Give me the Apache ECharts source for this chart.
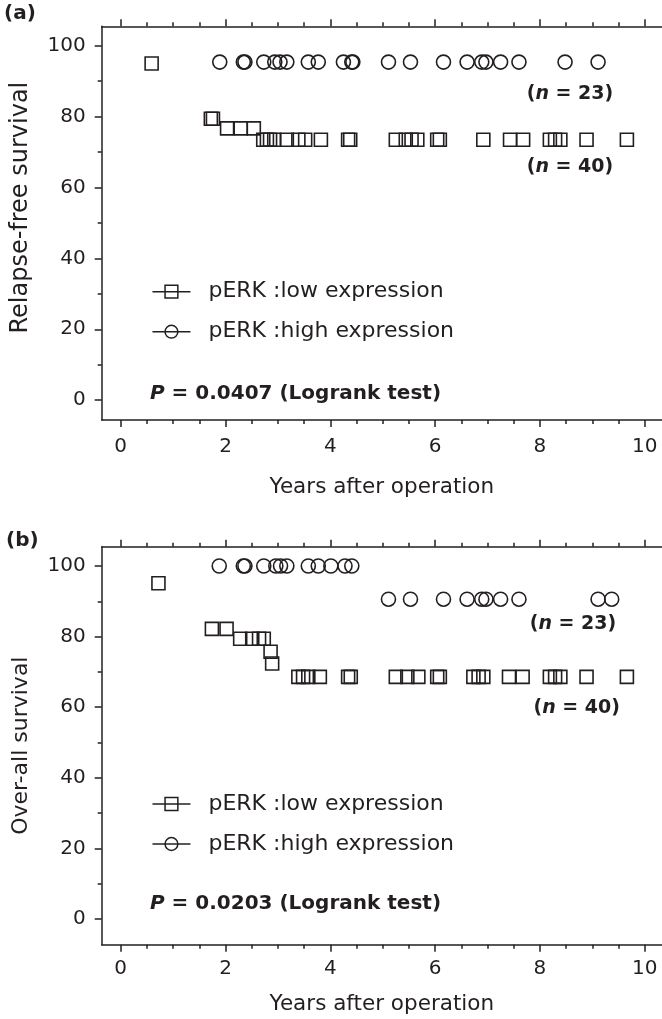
<!DOCTYPE html>
<html><head><meta charset="utf-8">
<script src="https://cdn.jsdelivr.net/npm/echarts@6/dist/echarts.min.js"></script>
<style>html,body{margin:0;padding:0;background:#fff}#c{width:662px;height:1019px}</style>
</head><body><div id="c"></div>
<script>
// ---------- data ----------
// Panel (a): relapse-free survival, censor marks
const yearsLowA  = [0.59, 1.72, 1.76, 2.03, 2.29, 2.54, 2.72, 2.79, 2.85, 2.93, 3.17, 3.39, 3.52, 3.82, 4.34, 4.38, 5.25, 5.44, 5.55, 5.66, 6.04, 6.09, 6.92, 7.43, 7.68, 8.19, 8.29, 8.39, 8.89, 9.66];
const survLowA   = [95.0, 79.4, 79.4, 76.7, 76.7, 76.7, 73.5, 73.5, 73.5, 73.5, 73.5, 73.5, 73.5, 73.5, 73.5, 73.5, 73.5, 73.5, 73.5, 73.5, 73.5, 73.5, 73.5, 73.5, 73.5, 73.5, 73.5, 73.5, 73.5, 73.5];
const yearsHighA = [1.89, 2.34, 2.37, 2.73, 2.94, 3.04, 3.17, 3.58, 3.77, 4.25, 4.41, 4.43, 5.11, 5.53, 6.16, 6.61, 6.89, 6.97, 7.25, 7.60, 8.48, 9.11];
const survHighA  = [95.4, 95.4, 95.4, 95.4, 95.4, 95.4, 95.4, 95.4, 95.4, 95.4, 95.4, 95.4, 95.4, 95.4, 95.4, 95.4, 95.4, 95.4, 95.4, 95.4, 95.4, 95.4];
// Panel (b): over-all survival, censor marks
const yearsLowB  = [0.72, 1.74, 2.02, 2.28, 2.51, 2.64, 2.73, 2.86, 2.89, 3.39, 3.48, 3.58, 3.80, 4.34, 4.39, 5.25, 5.47, 5.68, 6.04, 6.09, 6.73, 6.83, 6.92, 7.41, 7.67, 8.19, 8.29, 8.39, 8.89, 9.66];
const survLowB   = [95.1, 82.2, 82.2, 79.4, 79.4, 79.4, 79.4, 75.7, 72.4, 68.6, 68.6, 68.6, 68.6, 68.6, 68.6, 68.6, 68.6, 68.6, 68.6, 68.6, 68.6, 68.6, 68.6, 68.6, 68.6, 68.6, 68.6, 68.6, 68.6, 68.6];
const yearsHighB = [1.88, 2.34, 2.37, 2.73, 2.96, 3.05, 3.17, 3.58, 3.77, 4.01, 4.28, 4.41, 5.11, 5.53, 6.16, 6.61, 6.89, 6.97, 7.25, 7.60, 9.11, 9.37];
const survHighB  = [100, 100, 100, 100, 100, 100, 100, 100, 100, 100, 100, 100, 90.6, 90.6, 90.6, 90.6, 90.6, 90.6, 90.6, 90.6, 90.6, 90.6];

const seriesNames = ['pERK :low expression', 'pERK :high expression'];
const xMajorTicks = [0, 2, 4, 6, 8, 10];
const xMinorTicks = [0.5, 1, 1.5, 2.5, 3, 3.5, 4.5, 5, 5.5, 6.5, 7, 7.5, 8.5, 9, 9.5, 10.5];
const yMajorTicks = [0, 20, 40, 60, 80, 100];
const yMinorTicks = [10, 30, 50, 70, 90];
const xTitle = 'Years after operation';
const yTitles = ['Relapse-free survival', 'Over-all survival'];
const panelTags = ['(a)', '(b)'];
const pTexts = ['0.0407', '0.0203'];
const nLabels = ['23', '40'];

// ---------- style ----------
const FONT = 'DejaVu Sans';
const INK = '#231f20';
const X_MIN = -0.363, X_MAX = 10.33;
const Y_RANGE = [[-5.6, 105.5], [-7.28, 105.47]];

function xAxis(grid, pos, ticks, len, withLabels, labelMargin, name, nameGap, showLine) {
  return {
    type: 'value', gridIndex: grid, position: pos, offset: 0, min: X_MIN, max: X_MAX,
    axisLine: { show: showLine, onZero: false, lineStyle: { color: INK, width: 1.5 } },
    axisTick: { show: true, inside: false, length: len, customValues: ticks, lineStyle: { color: INK, width: 1.5 } },
    axisLabel: withLabels ? { show: true, customValues: ticks, margin: labelMargin, fontFamily: FONT, fontSize: 20, color: INK } : { show: false },
    splitLine: { show: false }, minorTick: { show: false },
    name: name || '', nameLocation: 'middle', nameGap: nameGap || 0,
    nameTextStyle: { fontFamily: FONT, fontSize: 21.5, color: INK }
  };
}
function yAxis(grid, ticks, len, withLabels, name, nameSize, namePad) {
  return {
    type: 'value', gridIndex: grid, position: 'left', offset: 0, min: Y_RANGE[grid][0], max: Y_RANGE[grid][1],
    axisLine: { show: withLabels, onZero: false, lineStyle: { color: INK, width: 1.5 } },
    axisTick: { show: true, inside: false, length: len, customValues: ticks, lineStyle: { color: INK, width: 1.5 } },
    axisLabel: withLabels ? { show: true, customValues: ticks, margin: 16, fontFamily: FONT, fontSize: 20, color: INK } : { show: false },
    splitLine: { show: false },
    name: name || '', nameLocation: 'middle', nameGap: 69,
    nameTextStyle: { fontFamily: FONT, fontSize: nameSize || 22, color: INK, padding: namePad || 0 }
  };
}
function series(name, xi, yi, xs, ys, symbol, size) {
  return {
    type: 'line', name: name, xAxisIndex: xi, yAxisIndex: yi,
    data: xs.map((x, i) => [x, ys[i]]),
    symbol: symbol, symbolSize: size, showSymbol: true, showAllSymbol: true,
    lineStyle: { width: 0, opacity: 0 },
    itemStyle: { color: 'rgba(0,0,0,0)', borderColor: INK, borderWidth: 1.6 },
    silent: true, animation: false, clip: false, z: 3
  };
}
function legend(top) {
  return {
    data: seriesNames, orient: 'vertical', left: 151.7, top: top, padding: 0,
    itemWidth: 38, itemHeight: 16, itemGap: 18, selectedMode: false,
    textStyle: { fontFamily: FONT, fontSize: 22, color: INK, lineHeight: 22, padding: [0, 0, 0, 13] },
    lineStyle: { color: INK, width: 1.5, opacity: 1, type: 'solid' },
    itemStyle: { color: 'rgba(0,0,0,0)', borderColor: INK, borderWidth: 1.5, opacity: 1 }
  };
}
const richI = { i: { fontFamily: FONT, fontStyle: 'italic', fontWeight: 'bold', fontSize: 20, color: INK } };
function pTitle(val, top) {
  return { text: '{i|P} = ' + val + ' (Logrank test)', left: 150, top: top, padding: 0,
    textStyle: { fontFamily: FONT, fontWeight: 'bold', fontSize: 20, color: INK, rich: richI } };
}
function nText(n, x, y) {
  return { type: 'text', x: x, y: y, silent: true, z: 10,
    style: { text: '({i|n} = ' + n + ')', fontFamily: FONT, fontWeight: 'bold', fontSize: 19, fill: INK,
      align: 'center', verticalAlign: 'middle',
      rich: { i: { fontFamily: FONT, fontStyle: 'italic', fontWeight: 'bold', fontSize: 19, fill: INK } } } };
}

const option = {
  backgroundColor: '#fff',
  animation: false,
  grid: [
    { left: 101.7, top: 26.3, width: 560.3, height: 393.7, containLabel: false },
    { left: 101.7, top: 546.7, width: 560.3, height: 398, containLabel: false }
  ],
  xAxis: [
    xAxis(0, 'bottom', xMajorTicks, 7, true, 17, xTitle, 56, true),
    xAxis(0, 'bottom', xMinorTicks, 4, false, 0, '', 0, false),
    xAxis(0, 'top', xMajorTicks, 7, false, 0, '', 0, true),
    xAxis(0, 'top', xMinorTicks, 4, false, 0, '', 0, false),
    xAxis(1, 'bottom', xMajorTicks, 7, true, 14, xTitle, 49, true),
    xAxis(1, 'bottom', xMinorTicks, 4, false, 0, '', 0, false),
    xAxis(1, 'top', xMajorTicks, 7, false, 0, '', 0, true),
    xAxis(1, 'top', xMinorTicks, 4, false, 0, '', 0, false)
  ],
  yAxis: [
    yAxis(0, yMajorTicks, 7, true, yTitles[0], 24, [0, 0, 0, 31]),
    yAxis(0, yMinorTicks, 4, false),
    yAxis(1, yMajorTicks, 7, true, yTitles[1], 22, 0),
    yAxis(1, yMinorTicks, 4, false)
  ],
  title: [
    { text: panelTags[0], left: 4, top: 4, padding: 0, textStyle: { fontFamily: FONT, fontWeight: 'bold', fontSize: 20, color: INK } },
    { text: panelTags[1], left: 6, top: 531, padding: 0, textStyle: { fontFamily: FONT, fontWeight: 'bold', fontSize: 20, color: INK } },
    pTitle(pTexts[0], 384),
    pTitle(pTexts[1], 894)
  ],
  legend: [legend(280.7), legend(793)],
  graphic: [
    nText(nLabels[0], 570, 94), nText(nLabels[1], 570, 166.7),
    nText(nLabels[0], 573, 624.3), nText(nLabels[1], 576.7, 708.3)
  ],
  series: [
    series(seriesNames[0], 0, 0, yearsLowA, survLowA, 'rect', 13),
    series(seriesNames[1], 0, 0, yearsHighA, survHighA, 'circle', 14),
    series(seriesNames[0], 4, 2, yearsLowB, survLowB, 'rect', 13),
    series(seriesNames[1], 4, 2, yearsHighB, survHighB, 'circle', 14)
  ]
};
const chart = echarts.init(document.getElementById('c'), null, { renderer: 'canvas' });
chart.setOption(option);
</script></body></html>
